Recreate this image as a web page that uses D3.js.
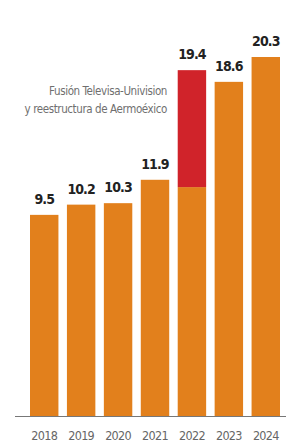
<!DOCTYPE html>
<html>
<head>
<meta charset="utf-8">
<script src="https://cdn.jsdelivr.net/npm/d3@7"></script>
<style>
  body { margin: 0; background: #fff; }
  svg { display: block; }
  text { font-family: "DejaVu Sans Condensed", "DejaVu Sans", sans-serif; font-stretch: condensed; }
</style>
</head>
<body>
<svg id="chart" width="286" height="447"></svg>
<script>
// data
var years = ["2018", "2019", "2020", "2021", "2022", "2023", "2024"];
var totals = [9.5, 10.2, 10.3, 11.9, 19.4, 18.6, 20.3];
// 2022 split: ordinary part (orange) + extraordinary part (red)
var base2022 = 11.4;
var noteLines = ["Fusión Televisa-Univision", "y reestructura de Aermoéxico"];

var svg = d3.select("#chart"),
    width = 286,
    height = 447;

var baseline = 416;

var x = d3.scaleBand()
    .domain(years)
    .range([30, 280])
    .paddingInner(0.23)
    .paddingOuter(0);

// the original graphic does not start its bars at zero
var y = d3.scaleLinear()
    .domain([-4.26, 20.3])
    .range([baseline, 57]);

var orange = "#e2801c",
    red = "#d0232a";

var rows = years.map(function (yr, i) {
    return { year: yr, total: totals[i], base: yr === "2022" ? base2022 : totals[i] };
});

// orange bars
svg.append("g")
    .selectAll("rect")
    .data(rows)
    .enter().append("rect")
    .attr("x", function (d) { return x(d.year); })
    .attr("width", x.bandwidth())
    .attr("y", function (d) { return y(d.base); })
    .attr("height", function (d) { return baseline - y(d.base); })
    .attr("fill", orange);

// red stacked part
svg.append("g")
    .selectAll("rect")
    .data(rows.filter(function (d) { return d.total > d.base; }))
    .enter().append("rect")
    .attr("x", function (d) { return x(d.year); })
    .attr("width", x.bandwidth())
    .attr("y", function (d) { return y(d.total); })
    .attr("height", function (d) { return y(d.base) - y(d.total); })
    .attr("fill", red);

// value labels
svg.append("g")
    .selectAll("text")
    .data(rows)
    .enter().append("text")
    .attr("x", function (d) { return x(d.year) + x.bandwidth() / 2; })
    .attr("y", function (d) { return y(d.total) - 11; })
    .attr("text-anchor", "middle")
    .attr("font-size", 14)
    .attr("font-weight", "bold")
    .attr("letter-spacing", -0.9)
    .attr("fill", "#222")
    .text(function (d) { return d.total.toFixed(1); });

// annotation
svg.append("g")
    .selectAll("text")
    .data(noteLines)
    .enter().append("text")
    .attr("x", 167)
    .attr("y", function (d, i) { return 95 + i * 18; })
    .attr("text-anchor", "end")
    .attr("font-size", 11.5)
    .attr("letter-spacing", -0.4)
    .attr("fill", "#6f6f6f")
    .text(function (d) { return d; });

// baseline + year ticks
var xAxis = d3.axisBottom(x).tickSize(0).tickPadding(15);

var gx = svg.append("g")
    .attr("transform", "translate(0," + baseline + ")")
    .call(xAxis);

gx.select(".domain").remove();
gx.append("line")
    .attr("x1", 15).attr("x2", width)
    .attr("y1", 0.5).attr("y2", 0.5)
    .attr("stroke", "#777")
    .attr("stroke-width", 1);

gx.selectAll(".tick text")
    .attr("font-family", null)
    .attr("font-size", 12.5)
    .attr("letter-spacing", -0.7)
    .attr("fill", "#666");
</script>
</body>
</html>
